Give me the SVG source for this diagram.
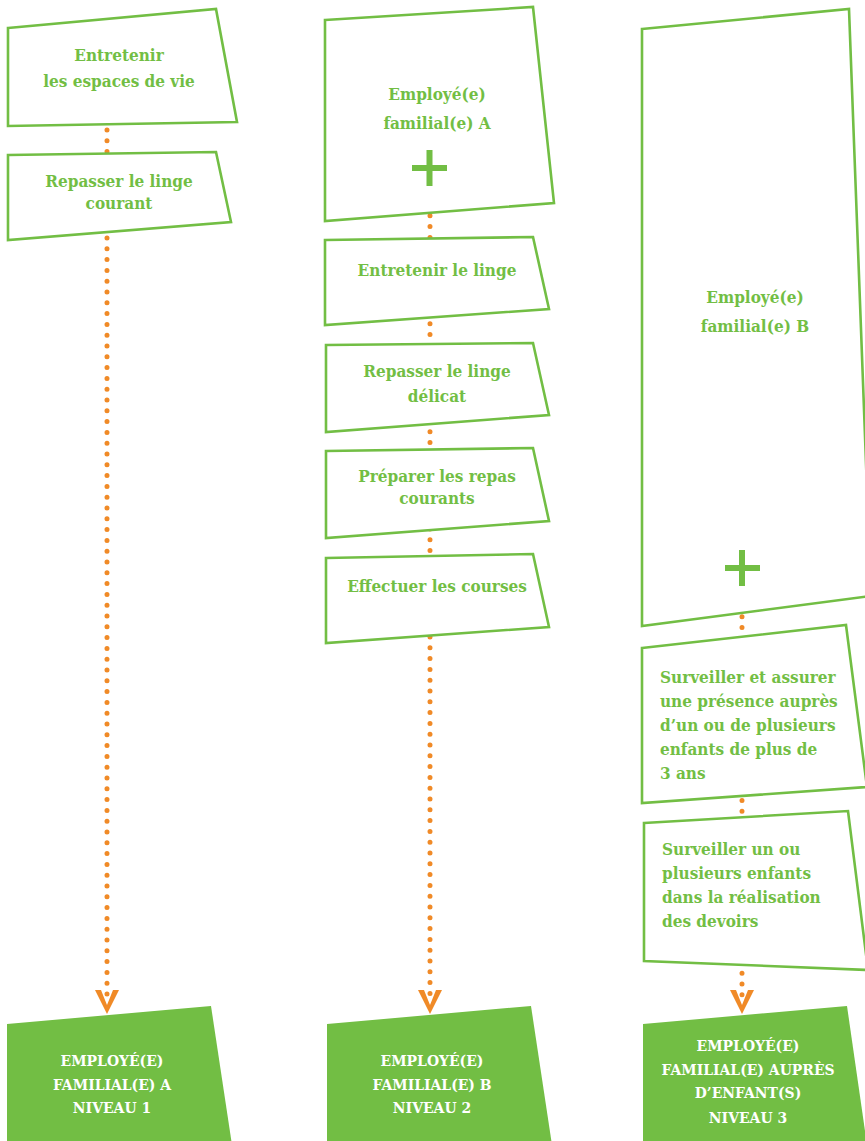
<svg xmlns="http://www.w3.org/2000/svg" width="865" height="1141" viewBox="0 0 865 1141">
<style>
.box{fill:#fff;stroke:#72BE44;stroke-width:2.6;stroke-linejoin:miter}
.gbox{fill:#72BE44;stroke:none}
.conn{fill:none;stroke:#F08A27;stroke-width:5;stroke-linecap:round;stroke-dasharray:0 10.8}
.t{font-family:"DejaVu Serif Condensed","DejaVu Serif",serif;font-stretch:condensed;font-weight:bold;font-size:17px;fill:#72BE44}
.c{text-anchor:middle}
.w{fill:#fff;font-size:15.5px}
.plus{fill:#72BE44}
</style>
<defs>
<marker id="v" markerUnits="userSpaceOnUse" orient="auto" refX="0" refY="0" markerWidth="40" markerHeight="40" overflow="visible">
<polygon points="-11,12 -11,6 4,0 -11,-6 -11,-12 13,0" fill="#F08A27"/>
</marker>
</defs>
<g id="connectors">
<line class="conn" x1="107" y1="130" x2="107" y2="1001" marker-end="url(#v)"/>
<line class="conn" x1="430" y1="205" x2="430" y2="1001" marker-end="url(#v)"/>
<line class="conn" x1="742" y1="606" x2="742" y2="1001" marker-end="url(#v)"/>
</g>
<g id="c1-espaces">
<polygon class="box" points="8,28 216,9 237,122 8,126"/>
<text class="t c" x="119" y="61">Entretenir</text>
<text class="t c" x="119" y="87">les espaces de vie</text>
</g>
<g id="c1-repasser">
<polygon class="box" points="8,155 216,152 231,222 8,240"/>
<text class="t c" x="119" y="187">Repasser le linge</text>
<text class="t c" x="119" y="209">courant</text>
</g>
<g id="c1-result">
<polygon class="gbox" points="7,1024 211,1006 232,1145 7,1145"/>
<text class="t c w" x="112" y="1066">EMPLOYÉ(E)</text>
<text class="t c w" x="112" y="1090">FAMILIAL(E) A</text>
<text class="t c w" x="112" y="1113">NIVEAU 1</text>
</g>
<g id="c2-employeA">
<polygon class="box" points="325,20 533,7 554,203 325,221"/>
<text class="t c" x="437" y="100">Employé(e)</text>
<text class="t c" x="437" y="129">familial(e) A</text>
<rect class="plus" x="412" y="165" width="35" height="6"/>
<rect class="plus" x="426.5" y="150" width="6" height="36"/>
</g>
<g id="c2-linge">
<polygon class="box" points="325,240 533,237 549,309 325,325"/>
<text class="t c" x="437" y="276">Entretenir le linge</text>
</g>
<g id="c2-delicat">
<polygon class="box" points="326,345 533,343 549,415 326,432"/>
<text class="t c" x="437" y="377">Repasser le linge</text>
<text class="t c" x="437" y="402">délicat</text>
</g>
<g id="c2-repas">
<polygon class="box" points="326,451 533,448 549,521 326,538"/>
<text class="t c" x="437" y="482">Préparer les repas</text>
<text class="t c" x="437" y="504">courants</text>
</g>
<g id="c2-courses">
<polygon class="box" points="326,558 533,554 549,627 326,643"/>
<text class="t c" x="437" y="592">Effectuer les courses</text>
</g>
<g id="c2-result">
<polygon class="gbox" points="327,1024 531,1006 552,1145 327,1145"/>
<text class="t c w" x="432" y="1066">EMPLOYÉ(E)</text>
<text class="t c w" x="432" y="1090">FAMILIAL(E) B</text>
<text class="t c w" x="432" y="1113">NIVEAU 2</text>
</g>
<g id="c3-employeB">
<polygon class="box" points="642,29 849,9 871,596 642,626"/>
<text class="t c" x="755" y="303">Employé(e)</text>
<text class="t c" x="755" y="332">familial(e) B</text>
<rect class="plus" x="725" y="565" width="35" height="6"/>
<rect class="plus" x="739" y="550" width="6" height="36"/>
</g>
<g id="c3-presence">
<polygon class="box" points="642,648 846,625 867,787 642,803"/>
<text class="t" x="660" y="683">Surveiller et assurer</text>
<text class="t" x="660" y="707">une présence auprès</text>
<text class="t" x="660" y="731">d’un ou de plusieurs</text>
<text class="t" x="660" y="755">enfants de plus de</text>
<text class="t" x="660" y="779">3 ans</text>
</g>
<g id="c3-devoirs">
<polygon class="box" points="644,823 848,811 868,970 644,961"/>
<text class="t" x="662" y="855">Surveiller un ou</text>
<text class="t" x="662" y="879">plusieurs enfants</text>
<text class="t" x="662" y="903">dans la réalisation</text>
<text class="t" x="662" y="927">des devoirs</text>
</g>
<g id="c3-result">
<polygon class="gbox" points="643,1024 847,1006 867,1145 643,1145"/>
<text class="t c w" x="748" y="1051">EMPLOYÉ(E)</text>
<text class="t c w" x="748" y="1075">FAMILIAL(E) AUPRÈS</text>
<text class="t c w" x="748" y="1098">D’ENFANT(S)</text>
<text class="t c w" x="748" y="1123">NIVEAU 3</text>
</g>
</svg>
